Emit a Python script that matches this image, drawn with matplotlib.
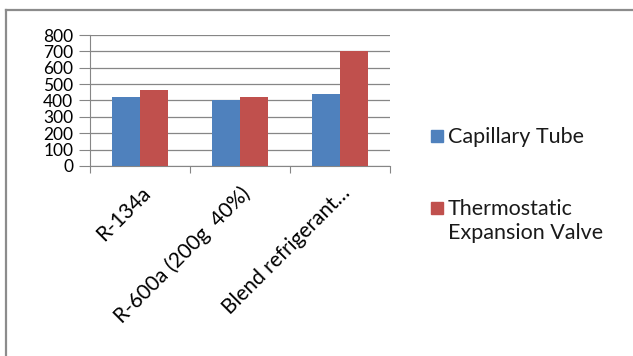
import matplotlib.pyplot as plt
from matplotlib.patches import Rectangle
import numpy as np

# values
categories = ['R-134a', 'R-600a (200g  40%)', 'Blend refrigerant…']
capillary = [420, 400, 442]
txv = [462, 420, 700]
series_names = ['Capillary Tube', 'Thermostatic\nExpansion Valve']
series_colors = ['#4F81BD', '#C0504D']
yticks = [0, 100, 200, 300, 400, 500, 600, 700, 800]

plt.rcParams['font.family'] = ['Lato', 'DejaVu Sans']

W, H = 633, 356
fig = plt.figure(figsize=(W / 100, H / 100), dpi=100)
ax = fig.add_axes([90 / W, 1 - 166 / H, 300 / W, 131 / H])

x = np.arange(len(categories))
w = 0.283
ax.bar(x - w / 2, capillary, w, color=series_colors[0], zorder=3)
ax.bar(x + w / 2, txv, w, color=series_colors[1], zorder=3)

ax.set_xlim(-0.5, len(categories) - 0.5)
ax.set_ylim(0, 800)
ax.set_yticks(yticks)
ax.set_yticklabels([str(v) for v in yticks], fontsize=12.5)
ax.yaxis.grid(True, color='#868686', linewidth=0.9, zorder=0)
ax.tick_params(axis='y', length=8, color='#868686', pad=4)

# category boundaries as ticks, labels at centres
ax.set_xticks(np.arange(-0.5, len(categories)), minor=False)
ax.set_xticklabels([])
ax.set_xticks(x, minor=True)
ax.set_xticklabels(categories, minor=True, rotation=45, ha='right', va='top',
                   rotation_mode='anchor', fontsize=15)
ax.tick_params(axis='x', which='major', length=5, color='#868686')
ax.tick_params(axis='x', which='minor', length=0, pad=12)

for s in ['top', 'right']:
    ax.spines[s].set_visible(False)
for s in ['left', 'bottom']:
    ax.spines[s].set_color('#868686')

# legend: square aligned with first text line
leg_y = [136, 208]
for name, col, yy in zip(series_names, series_colors, leg_y):
    fig.add_artist(Rectangle((431 / W, 1 - (yy + 6) / H), 12 / W, 12 / H,
                             transform=fig.transFigure, color=col))
    fig.text(448 / W, 1 - (yy - 9) / H, name, fontsize=15.5, va='top',
             ha='left', linespacing=1.25, color='#1a1a1a')

# outer chart frame (left and top edges visible)
fig.add_artist(plt.Line2D([6 / W, 6 / W], [0, 1 - 10 / H],
                          transform=fig.transFigure, color='#8c8c8c', linewidth=1.6))
fig.add_artist(plt.Line2D([6 / W, 1], [1 - 10 / H, 1 - 10 / H],
                          transform=fig.transFigure, color='#8c8c8c', linewidth=1.6))

fig.savefig('out.png', dpi=100)
